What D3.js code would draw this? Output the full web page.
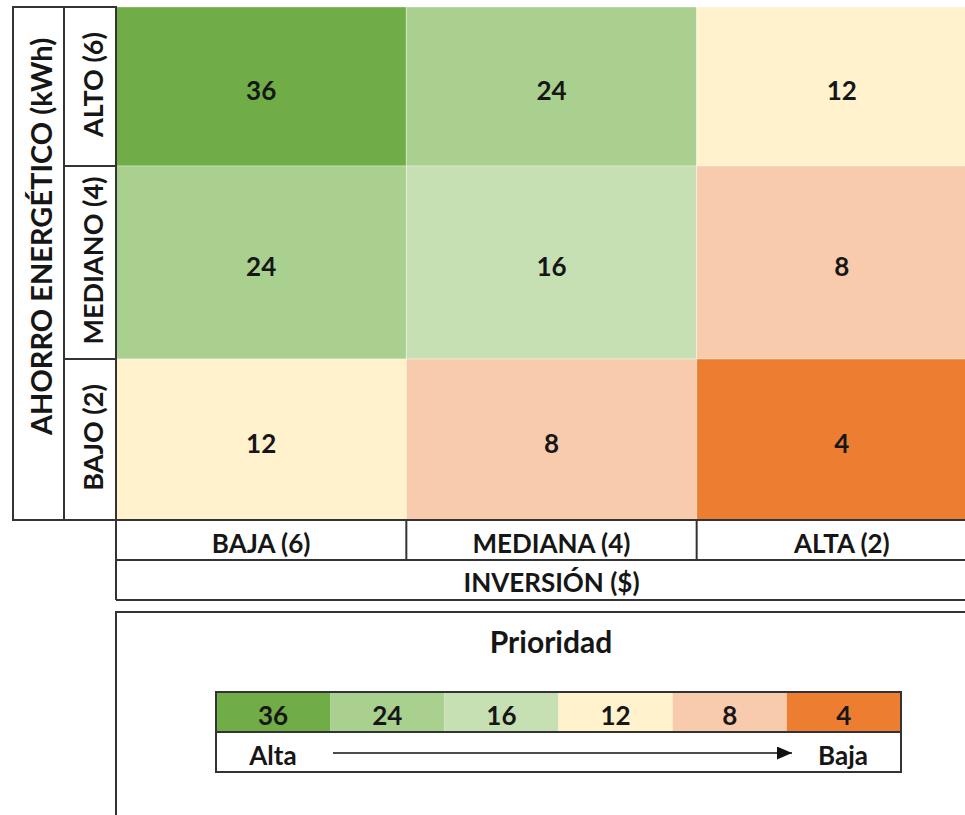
<!DOCTYPE html>
<html lang="es">
<head>
  <meta charset="UTF-8">
  <title>Matriz de prioridad</title>
  <script src="https://d3js.org/d3.v7.min.js"></script>
  <style>
    body { margin: 0; background: #fff; }
    svg { display: block; font-family: Lato, "Open Sans", sans-serif; font-weight: 700; }
  </style>
</head>
<body>
<script>
  // data
  const rowLabels = ["ALTO (6)", "MEDIANO (4)", "BAJO (2)"];
  const colLabels = ["BAJA (6)", "MEDIANA (4)", "ALTA (2)"];
  const values = [
    [36, 24, 12],
    [24, 16, 8],
    [12, 8, 4]
  ];
  const legendValues = [36, 24, 16, 12, 8, 4];
  const legendColors = ["#70AD47", "#A9D08E", "#C6E0B4", "#FFF2CC", "#F8CBAD", "#ED7D31"];
  const yTitle = "AHORRO ENERGÉTICO (kWh)";
  const xTitle = "INVERSIÓN ($)";
  const legendTitle = "Prioridad";
  const legendEnds = ["Alta", "Baja"];

  const W = 965, H = 815;
  const textColor = "#161616";
  const line = "#333";
  const fs = 26;

  const svg = d3.select("body").append("svg")
    .attr("width", W)
    .attr("height", H);

  // scales
  const color = d3.scaleOrdinal().domain(legendValues).range(legendColors);
  const x = d3.scaleBand().domain(colLabels).range([116, 987]);
  // the spreadsheet rows are not all the same height
  const rowTop = d3.scaleOrdinal().domain(rowLabels).range([7, 166, 359]);
  const rowBottom = d3.scaleOrdinal().domain(rowLabels).range([166, 359, 520]);

  const cells = [];
  rowLabels.forEach((r, i) => colLabels.forEach((c, j) => cells.push({ r, c, v: values[i][j] })));

  // heatmap cells
  const g = svg.append("g");
  g.selectAll("rect").data(cells).join("rect")
    .attr("x", d => x(d.c))
    .attr("y", d => rowTop(d.r))
    .attr("width", x.bandwidth())
    .attr("height", d => rowBottom(d.r) - rowTop(d.r))
    .attr("fill", d => color(d.v))
    .attr("stroke", "rgba(255,255,255,0.35)")
    .attr("stroke-width", 1);

  g.selectAll("text").data(cells).join("text")
    .attr("x", d => x(d.c) + x.bandwidth() / 2)
    .attr("y", d => (rowTop(d.r) + rowBottom(d.r)) / 2 + 3)
    .attr("text-anchor", "middle")
    .attr("dominant-baseline", "central")
    .attr("font-size", fs)
    .attr("fill", textColor)
    .text(d => d.v);

  // row label boxes
  const left = 13, mid = 64, gx = 116;
  svg.append("rect")
    .attr("x", left).attr("y", 7)
    .attr("width", gx - left).attr("height", 513)
    .attr("fill", "none").attr("stroke", line).attr("stroke-width", 2);
  svg.append("line")
    .attr("x1", mid).attr("x2", mid).attr("y1", 7).attr("y2", 520)
    .attr("stroke", line).attr("stroke-width", 2);
  svg.selectAll(".rowsep").data(rowLabels.slice(1)).join("line")
    .attr("x1", mid).attr("x2", gx)
    .attr("y1", d => rowTop(d)).attr("y2", d => rowTop(d))
    .attr("stroke", line).attr("stroke-width", 2);

  svg.selectAll(".rowlab").data(rowLabels).join("text")
    .attr("transform", d => `translate(${(mid + gx) / 2 + 2},${(rowTop(d) + rowBottom(d)) / 2 - 2}) rotate(-90)`)
    .attr("text-anchor", "middle")
    .attr("dominant-baseline", "central")
    .attr("font-size", 27)
    .attr("fill", textColor)
    .text(d => d);

  svg.append("text")
    .attr("transform", `translate(${(left + mid) / 2 + 2},${(7 + 520) / 2 - 27}) rotate(-90)`)
    .attr("text-anchor", "middle")
    .attr("dominant-baseline", "central")
    .attr("font-size", 29)
    .attr("fill", textColor)
    .text(yTitle);

  // column labels
  svg.append("line").attr("x1", left).attr("x2", W).attr("y1", 520).attr("y2", 520)
    .attr("stroke", line).attr("stroke-width", 2);
  svg.append("line").attr("x1", gx).attr("x2", W).attr("y1", 560).attr("y2", 560)
    .attr("stroke", line).attr("stroke-width", 2);
  svg.append("line").attr("x1", gx).attr("x2", W).attr("y1", 600).attr("y2", 600)
    .attr("stroke", line).attr("stroke-width", 2);
  svg.append("line").attr("x1", gx).attr("x2", gx).attr("y1", 520).attr("y2", 600)
    .attr("stroke", line).attr("stroke-width", 2);
  svg.selectAll(".colsep").data(colLabels.slice(1)).join("line")
    .attr("x1", d => x(d)).attr("x2", d => x(d))
    .attr("y1", 520).attr("y2", 560)
    .attr("stroke", line).attr("stroke-width", 2);

  svg.selectAll(".collab").data(colLabels).join("text")
    .attr("x", d => x(d) + x.bandwidth() / 2)
    .attr("y", 543)
    .attr("text-anchor", "middle")
    .attr("dominant-baseline", "central")
    .attr("font-size", fs)
    .attr("fill", textColor)
    .text(d => d);

  svg.append("text")
    .attr("x", x(colLabels[1]) + x.bandwidth() / 2)
    .attr("y", 582)
    .attr("text-anchor", "middle")
    .attr("dominant-baseline", "central")
    .attr("font-size", fs)
    .attr("fill", textColor)
    .text(xTitle);

  // legend
  svg.append("rect")
    .attr("x", gx).attr("y", 612)
    .attr("width", W).attr("height", 300)
    .attr("fill", "none").attr("stroke", line).attr("stroke-width", 2);

  svg.append("text")
    .attr("x", 551).attr("y", 641)
    .attr("text-anchor", "middle")
    .attr("dominant-baseline", "central")
    .attr("font-size", 30)
    .attr("fill", textColor)
    .text(legendTitle);

  const lx = d3.scaleBand().domain(legendValues).range([216, 901]);
  const lg = svg.append("g");
  lg.selectAll("rect").data(legendValues).join("rect")
    .attr("x", d => lx(d)).attr("y", 692)
    .attr("width", lx.bandwidth()).attr("height", 40)
    .attr("fill", d => color(d));
  lg.selectAll("text").data(legendValues).join("text")
    .attr("x", d => lx(d) + lx.bandwidth() / 2)
    .attr("y", 715)
    .attr("text-anchor", "middle")
    .attr("dominant-baseline", "central")
    .attr("font-size", fs)
    .attr("fill", textColor)
    .text(d => d);
  lg.append("rect")
    .attr("x", 216).attr("y", 692).attr("width", 685).attr("height", 80)
    .attr("fill", "none").attr("stroke", line).attr("stroke-width", 2);
  lg.append("line")
    .attr("x1", 216).attr("x2", 901).attr("y1", 732).attr("y2", 732)
    .attr("stroke", line).attr("stroke-width", 2);

  svg.append("defs").append("marker")
    .attr("id", "arrow")
    .attr("viewBox", "0 0 10 10")
    .attr("refX", 10).attr("refY", 5)
    .attr("markerWidth", 15).attr("markerHeight", 13)
    .attr("markerUnits", "userSpaceOnUse")
    .attr("preserveAspectRatio", "none")
    .attr("orient", "auto")
    .append("path").attr("d", "M0,0 L10,5 L0,10 Z").attr("fill", "#111");

  lg.append("line")
    .attr("x1", 333).attr("x2", 792).attr("y1", 753).attr("y2", 753)
    .attr("stroke", "#111").attr("stroke-width", 1.5)
    .attr("marker-end", "url(#arrow)");

  lg.selectAll(".ends").data(legendEnds).join("text")
    .attr("x", (d, i) => i === 0 ? 273 : 843)
    .attr("y", 755)
    .attr("text-anchor", "middle")
    .attr("dominant-baseline", "central")
    .attr("font-size", fs)
    .attr("fill", textColor)
    .text(d => d);
</script>
</body>
</html>
